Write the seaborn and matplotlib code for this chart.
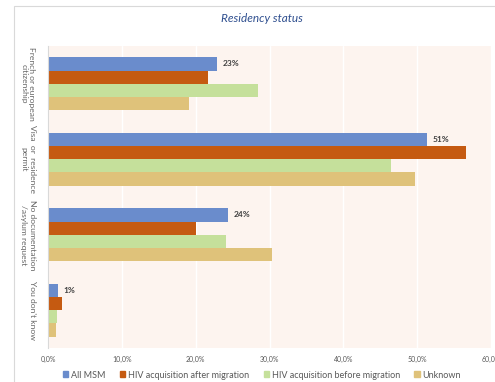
import matplotlib
matplotlib.use("Agg")
import matplotlib.pyplot as plt
import matplotlib.patches as mpatches
import seaborn as sns
import pandas as pd

categories = ["French or european\ncitizenship", "Visa  or  residence\npermit",
              "No documentation\n/asylum request", "You don't know"]
series = ["All MSM", "HIV acquisition after migration",
          "HIV acquisition before migration", "Unknown"]
all_msm = [22.9, 51.3, 24.4, 1.4]
after_mig = [21.7, 56.6, 20.0, 1.9]
before_mig = [28.5, 46.4, 24.1, 1.2]
unknown = [19.1, 49.7, 30.4, 1.1]
xticks = [0, 10, 20, 30, 40, 50, 60]
xtick_labels = ["0,0%", "10,0%", "20,0%", "30,0%", "40,0%", "50,0%", "60,0%"]
colors = ["#6A8CCC", "#C55A11", "#C5E09B", "#DFC27A"]

rows = []
for s, vals in zip(series, [all_msm, after_mig, before_mig, unknown]):
    for c, v in zip(categories, vals):
        rows.append({"cat": c, "series": s, "value": v})
df = pd.DataFrame(rows)

sns.set_theme(style="white")
plt.rcParams["font.family"] = ["Lato", "DejaVu Sans"]

fig = plt.figure(figsize=(4.95, 3.82), dpi=100)
ax = fig.add_axes([48 / 495, 1 - 348 / 382, (491 - 48) / 495, (348 - 46) / 382])

sns.barplot(data=df, x="value", y="cat", hue="series", order=categories,
            hue_order=series, palette=colors, orient="h", width=0.7,
            saturation=1, ax=ax, legend=True, linewidth=0)

ax.set_facecolor("#FDF4EF")
ax.set_xlim(0, 60)
ax.set_xticks(xticks)
ax.set_xticklabels(xtick_labels, fontsize=5, color="#595959")
ax.xaxis.grid(True, color="white", linewidth=1)
ax.set_axisbelow(True)
ax.tick_params(axis="x", length=0, pad=6)
ax.tick_params(axis="y", length=0, pad=9)
ax.set_yticks(range(len(categories)))
ax.set_yticklabels(categories, rotation=270, fontsize=6.1, color="#666666",
                   va="center", ha="right", multialignment="center")
ax.set_xlabel("")
ax.set_ylabel("")
for sp in ["top", "right", "bottom"]:
    ax.spines[sp].set_visible(False)
ax.spines["left"].set_color("#D9D9D9")
ax.spines["left"].set_linewidth(0.8)

ax.bar_label(ax.containers[0], fmt="%.0f%%", fontsize=6, fontweight="bold",
             color="#404040", padding=4)

handles = [mpatches.Patch(color=c) for c in colors]
ax.legend(handles, series, loc="center", bbox_to_anchor=(262 / 495, 7 / 382),
          bbox_transform=fig.transFigure, ncol=4, frameon=False, fontsize=6.5,
          handlelength=0.6, handleheight=0.6, handletextpad=0.3,
          columnspacing=1.6, labelcolor="#595959")

fig.text(262 / 495, 1 - 19 / 382, "Residency status", ha="center", va="center",
         fontsize=8.5, style="italic", color="#2F4F8F")

frame = mpatches.Rectangle((14 / 495, -0.1), 1.2, 1 - 6 / 382 + 0.1,
                           transform=fig.transFigure, fill=False,
                           edgecolor="#D9D9D9", linewidth=0.8)
fig.patches.append(frame)

fig.savefig("out.png", dpi=100)
